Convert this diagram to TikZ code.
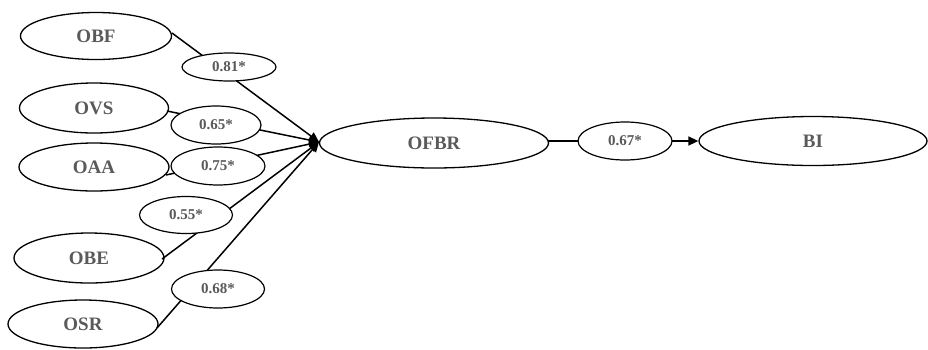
\documentclass[tikz,border=0pt]{standalone}
\usepackage{fontspec}
\setmainfont{Liberation Serif}
\usetikzlibrary{shapes.geometric,arrows.meta}
\definecolor{txt}{HTML}{5A5A5A}
\tikzset{
  construct/.style={ellipse,draw=black,line width=1.3pt,fill=white,inner sep=0pt,
    text=txt,font=\fontsize{19}{21}\selectfont\bfseries},
  coef/.style={ellipse,draw=black,line width=1.2pt,fill=white,inner sep=0pt,
    text=txt,font=\fontsize{15}{17}\selectfont\bfseries},
  path/.style={line width=1.5pt,draw=black},
  tip/.style={-{Triangle[length=10pt,width=9pt]}}
}
\begin{document}
\begin{tikzpicture}[x=1pt,y=-1pt]
\useasboundingbox (0,0) rectangle (928,349);
% constructs
\node[construct,minimum width=151pt,minimum height=47pt] (obf) at (96,36) {OBF};
\node[construct,minimum width=149pt,minimum height=50pt] (ovs) at (94,108) {OVS};
\node[construct,minimum width=150pt,minimum height=48pt] (oaa) at (94,167) {OAA};
\node[construct,minimum width=150pt,minimum height=50pt] (obe) at (89,258) {OBE};
\node[construct,minimum width=150pt,minimum height=48pt] (osr) at (83,324) {OSR};
\node[construct,minimum width=229pt,minimum height=50pt] (ofbr) at (434,143) {OFBR};
\node[construct,minimum width=228pt,minimum height=49pt] (bi) at (813,141) {BI};
\coordinate (tgt) at (319,142);
% paths
\draw[path,tip] (172,33) -- (tgt);
\draw[path,tip] (167,111) -- (tgt);
\draw[path,tip] (166,175) -- (tgt);
\draw[path,tip] (162,259) -- (tgt);
\draw[path,tip] (157,328) -- (tgt);
\draw[path,tip] (548,141) -- (bi.west);
% coefficients
\node[coef,minimum width=94pt,minimum height=28pt] (c1) at (229,67) {0.81*};
\node[coef,minimum width=90pt,minimum height=38pt] (c2) at (216,125) {0.65*};
\node[coef,minimum width=94pt,minimum height=38pt] (c3) at (218,166) {0.75*};
\node[coef,minimum width=93pt,minimum height=37pt] (c4) at (186,215) {0.55*};
\node[coef,minimum width=93pt,minimum height=38pt] (c5) at (218,289) {0.68*};
\node[coef,minimum width=94pt,minimum height=38pt] (c6) at (625,141) {0.67*};
\end{tikzpicture}
\end{document}
